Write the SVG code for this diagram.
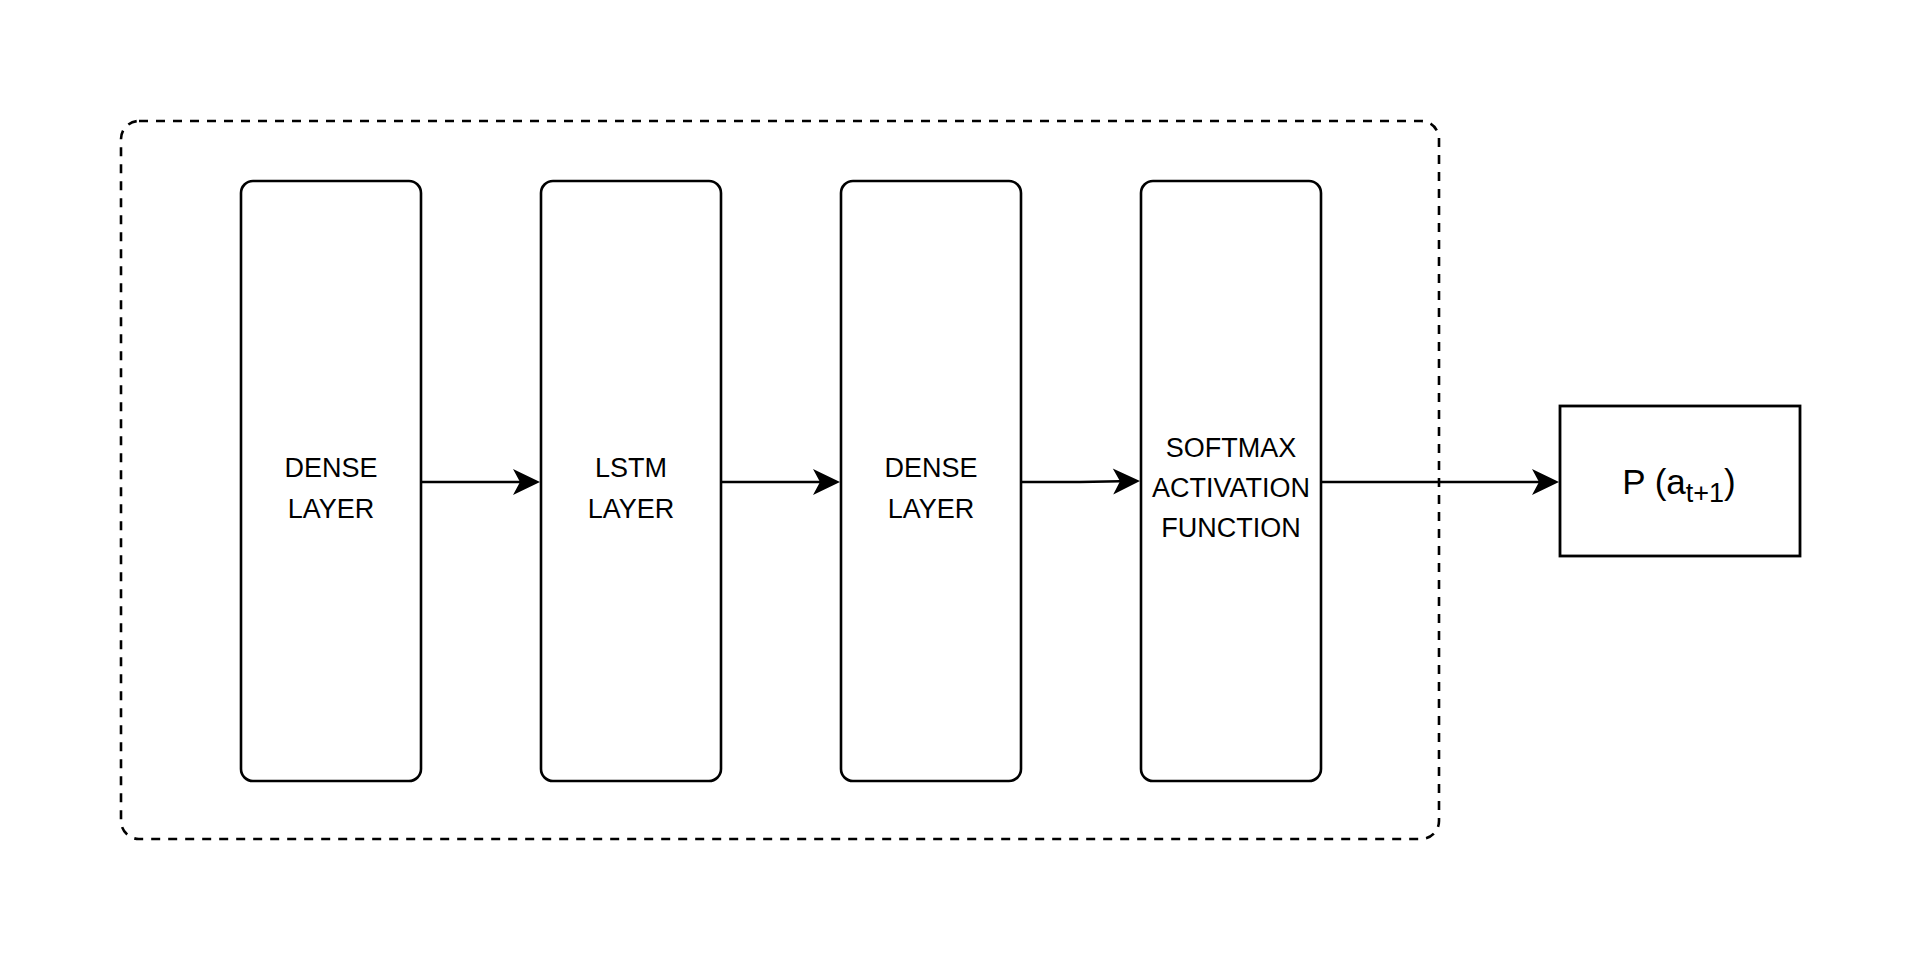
<svg xmlns="http://www.w3.org/2000/svg" width="1920" height="961" viewBox="0 0 1920 961">
<defs>
<style>
.layer{fill:#fff;stroke:#000;stroke-width:2.6}
.lbl{font-family:"Liberation Sans",Arial,Helvetica,sans-serif;font-size:27px;fill:#000;text-anchor:middle}
.edge{fill:none;stroke:#000;stroke-width:2.4;marker-end:url(#arr)}
</style>
<marker id="arr" viewBox="-8 -14 30 28" markerWidth="30" markerHeight="28" refX="0" refY="0" orient="auto" markerUnits="userSpaceOnUse">
<path d="M20,0 L-7,-13 L0,0 L-7,13 Z" fill="#000"/>
</marker>
</defs>
<rect width="1920" height="961" fill="#fff"/>
<g id="container">
<rect x="121" y="121" width="1318" height="718" rx="18" fill="none" stroke="#000" stroke-width="2.6" stroke-dasharray="9 8"/>
</g>
<g id="dense1">
<rect class="layer" x="241" y="181" width="180" height="600" rx="12"/>
<text class="lbl" x="331" y="477">DENSE</text>
<text class="lbl" x="331" y="518">LAYER</text>
</g>
<g id="lstm">
<rect class="layer" x="541" y="181" width="180" height="600" rx="12"/>
<text class="lbl" x="631" y="477">LSTM</text>
<text class="lbl" x="631" y="518">LAYER</text>
</g>
<g id="dense2">
<rect class="layer" x="841" y="181" width="180" height="600" rx="12"/>
<text class="lbl" x="931" y="477">DENSE</text>
<text class="lbl" x="931" y="518">LAYER</text>
</g>
<g id="softmax">
<rect class="layer" x="1141" y="181" width="180" height="600" rx="12"/>
<text class="lbl" x="1231" y="457">SOFTMAX</text>
<text class="lbl" x="1231" y="497">ACTIVATION</text>
<text class="lbl" x="1231" y="537">FUNCTION</text>
</g>
<g id="output">
<rect x="1560" y="406" width="240" height="150" fill="#fff" stroke="#000" stroke-width="2.8"/>
<text x="1679" y="494" font-family="Liberation Sans, Arial, Helvetica, sans-serif" font-size="35" text-anchor="middle" fill="#000">P (a<tspan font-size="27" dy="8">t+1</tspan><tspan font-size="35" dy="-8">)</tspan></text>
</g>
<g id="connectors">
<path class="edge" d="M421,482 L520,482"/>
<path class="edge" d="M721,482 L820,482"/>
<path class="edge" d="M1021,482 L1080,482 L1120,481.3"/>
<path class="edge" d="M1321,482 L1539,482"/>
</g>
</svg>
